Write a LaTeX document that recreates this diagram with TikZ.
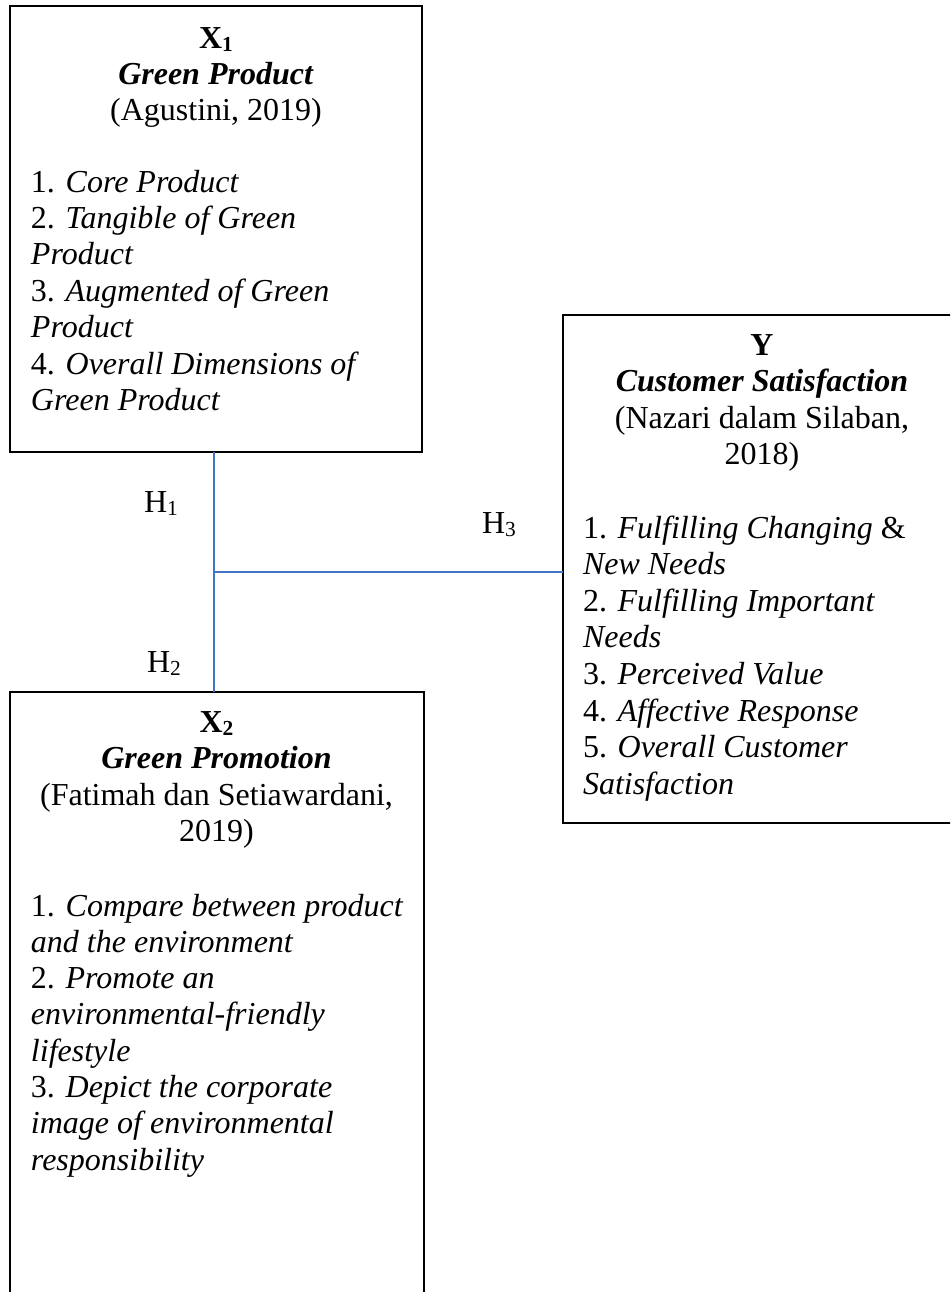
\documentclass[tikz,border=0pt]{standalone}
\usepackage{fontspec}
\setmainfont{Liberation Serif}
\definecolor{lineblue}{HTML}{4472C4}
\newcommand{\lowsub}[1]{\raisebox{-0.12em}{\fontsize{10.7}{12}\selectfont #1}}
\begin{document}
\begin{tikzpicture}[x=0.5pt,y=-0.5pt,
  box/.style={draw=black,line width=1.25pt,anchor=north west,inner sep=0pt,outer sep=0pt},
  txt/.style={inner sep=0pt,outer sep=0pt,font=\fontsize{16}{18.2}\selectfont},
  ctxt/.style={txt,anchor=base},
  ltxt/.style={txt,anchor=base west},
  link/.style={draw=lineblue,line width=1pt}]
\useasboundingbox (0,0) rectangle (950,1292);
\clip (0,0) rectangle (950,1292);
\fill[white] (0,0) rectangle (950,1292);

% boxes
\node[box,minimum width=206pt,minimum height=223pt] (x1) at (10,6) {};
\node[box,minimum width=199pt,minimum height=254pt] (y) at (563,315) {};
\node[box,minimum width=207pt,minimum height=310pt] (x2) at (10,692) {};

% X1 texts
\node[ctxt] (x1h1) at (216,48) {\textbf{X\lowsub{1}}};
\node[ctxt] (x1h2) at (216,84.4) {\textbf{\textit{Green Product}}};
\node[ctxt] (x1h3) at (216,120.8) {(Agustini, 2019)};
\foreach \t [count=\i] in {{1. \textit{Core Product}},{2. \textit{Tangible of Green}},{\textit{Product}},{3. \textit{Augmented of Green}},{\textit{Product}},{4. \textit{Overall Dimensions of}},{\textit{Green Product}}}
  \node[ltxt] (x1l\i) at (31,{192+36.4*(\i-1)}) {\t};

% Y texts
\node[ctxt] (yh1) at (762,355) {\textbf{Y}};
\node[ctxt] (yh2) at (762,391.5) {\textbf{\textit{Customer Satisfaction}}};
\node[ctxt] (yh3) at (762,428) {(Nazari dalam Silaban,};
\node[ctxt] (yh4) at (762,464.5) {2018)};
\foreach \t [count=\i] in {{1. \textit{Fulfilling Changing} \&},{\textit{New Needs}},{2. \textit{Fulfilling Important}},{\textit{Needs}},{3. \textit{Perceived Value}},{4. \textit{Affective Response}},{5. \textit{Overall Customer}},{\textit{Satisfaction}}}
  \node[ltxt] (yl\i) at (583,{538+36.6*(\i-1)}) {\t};

% X2 texts
\node[ctxt] (x2h1) at (216.5,732) {\textbf{X\lowsub{2}}};
\node[ctxt] (x2h2) at (216.5,768.5) {\textbf{\textit{Green Promotion}}};
\node[ctxt] (x2h3) at (216.5,805) {(Fatimah dan Setiawardani,};
\node[ctxt] (x2h4) at (216.5,841.5) {2019)};
\foreach \t [count=\i] in {{1. \textit{Compare between product}},{\textit{and the environment}},{2. \textit{Promote an}},{\textit{environmental-friendly}},{\textit{lifestyle}},{3. \textit{Depict the corporate}},{\textit{image of environmental}},{\textit{responsibility}}}
  \node[ltxt] (x2l\i) at (31,{916+36.3*(\i-1)}) {\t};

% connectors
\coordinate (j) at (213.5,572);
\draw[link] (x1.south -| j) -- (x2.north -| j);
\draw[link] (j) -- (j -| y.west);

% hypothesis labels
\node[ltxt] (h1) at (144,512) {H\lowsub{1}};
\node[ltxt] (h2) at (147,672) {H\lowsub{2}};
\node[ltxt] (h3) at (482,533) {H\lowsub{3}};
\end{tikzpicture}
\end{document}
